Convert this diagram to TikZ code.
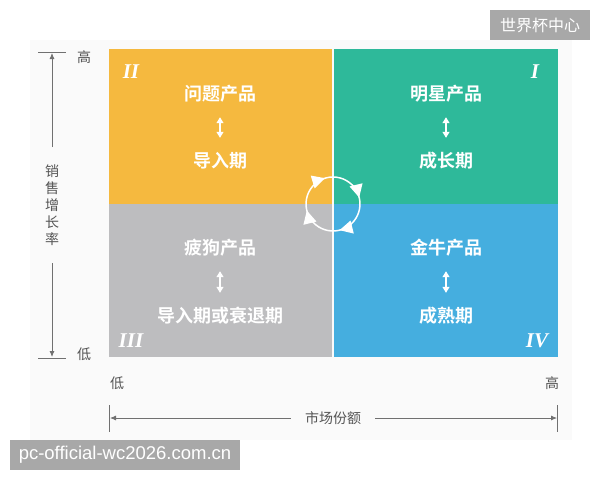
\documentclass[tikz,border=0pt]{standalone}
\usepackage{fontspec}
\setmainfont{Liberation Sans}
\newfontfamily\cjk{Noto Sans CJK SC}
\newfontfamily\cjkb{Noto Sans CJK SC Bold}
\newfontfamily\romanf{Liberation Serif}
\usetikzlibrary{arrows.meta}
\definecolor{qorange}{HTML}{F5B93F}
\definecolor{qgreen}{HTML}{2EB99A}
\definecolor{qgrey}{HTML}{BDBDBF}
\definecolor{qblue}{HTML}{45AEDF}
\definecolor{axisgrey}{HTML}{707070}
\definecolor{labgrey}{HTML}{555555}
\definecolor{wmgrey}{HTML}{A8A8A8}
\definecolor{panel}{HTML}{FAFAFA}
\tikzset{
  qtext/.style={text=white, font=\cjkb\fontsize{18}{20}\selectfont, inner sep=0pt, minimum height=30pt},
  roman/.style={text=white, font=\romanf\bfseries\itshape\fontsize{21}{24}\selectfont, inner sep=0pt},
  dblarrow/.style={white, line width=1.2pt, {Triangle[length=6pt,width=7pt]}-{Triangle[length=6pt,width=7pt]}, shorten <=8pt, shorten >=8pt},
  cyc/.style={white, line width=1.5pt, -{Triangle[length=13pt,width=13pt]}},
  axisline/.style={axisgrey, line width=0.8pt},
  axisarrow/.style={axisgrey, line width=0.8pt, -{Latex[length=6pt,width=5pt]}},
  axlab/.style={text=labgrey, font=\cjk\fontsize{14}{17}\selectfont, inner sep=0pt},
  wm/.style={fill=wmgrey, text=white, inner sep=0pt}
}
\begin{document}
\begin{tikzpicture}[x=1pt,y=-1pt]
\useasboundingbox (0,0) rectangle (600,480);
\fill[white] (0,0) rectangle (600,480);
\fill[panel] (30,40) rectangle (572,440);
% quadrants
\fill[qorange] (109,49) rectangle (332.2,204);
\fill[qgreen] (334.2,49) rectangle (558,204);
\fill[qgrey] (109,204) rectangle (332.2,357);
\fill[qblue] (334.2,204) rectangle (558,357);
% quadrant texts
\node[qtext] (q2a) at (220,94) {问题产品};
\node[qtext] (q2b) at (220,161) {导入期};
\node[qtext] (q1a) at (446,94) {明星产品};
\node[qtext] (q1b) at (446,161) {成长期};
\node[qtext] (q3a) at (220,248) {疲狗产品};
\node[qtext] (q3b) at (220,316) {导入期或衰退期};
\node[qtext] (q4a) at (446,248) {金牛产品};
\node[qtext] (q4b) at (446,316) {成熟期};
\draw[dblarrow] (q2a) -- (q2b);
\draw[dblarrow] (q1a) -- (q1b);
\draw[dblarrow] (q3a) -- (q3b);
\draw[dblarrow] (q4a) -- (q4b);
% roman numerals
\node[roman] (r2) at (131,72) {II};
\node[roman] (r1) at (535,72) {I};
\node[roman] (r3) at (131,341) {III};
\node[roman] (r4) at (537,341) {IV};
% cycle
\coordinate (cc) at (333,204);
\draw[cyc] ([shift={(-200:27)}]cc) arc[start angle=-200, end angle=-107, radius=27];
\draw[cyc] ([shift={(-113:27)}]cc) arc[start angle=-113, end angle=-14, radius=27];
\draw[cyc] ([shift={(-20:27)}]cc) arc[start angle=-20, end angle=76, radius=27];
\draw[cyc] ([shift={(70:27)}]cc) arc[start angle=70, end angle=166, radius=27];
% vertical axis
\coordinate (ytop) at (52,53);
\coordinate (ybot) at (52,357);
\draw[axisline] (38,52) -- (66,52);
\draw[axisline] (38,358) -- (66,358);
\node[axlab, align=center] (ylab) at (52,205) {销\\售\\增\\长\\率};
\draw[axisarrow] (ylab) ++(0,-58) -- (ytop);
\draw[axisarrow] (ylab) ++(0,58) -- (ybot);
\node[axlab] (yhi) at (84,57) {高};
\node[axlab] (ylo) at (84,354) {低};
% horizontal axis
\coordinate (xl) at (110,418);
\coordinate (xr) at (557,418);
\draw[axisline] (109.5,405) -- (109.5,432);
\draw[axisline] (557.5,405) -- (557.5,432);
\node[axlab, inner xsep=14pt] (xlab) at (333,418) {市场份额};
\draw[axisarrow] (xlab) -- (xl);
\draw[axisarrow] (xlab) -- (xr);
\node[axlab] (xlo) at (117,383) {低};
\node[axlab] (xhi) at (552,383) {高};
% watermarks
\node[wm, minimum width=100pt, minimum height=30pt, font=\cjk\fontsize{16}{18}\selectfont] (wm1) at (540,25) {世界杯中心};
\node[wm, minimum width=230pt, minimum height=30pt, font=\fontsize{18.5}{20}\selectfont] (wm2) at (125,455) {pc-official-wc2026.com.cn};
\end{tikzpicture}
\end{document}
